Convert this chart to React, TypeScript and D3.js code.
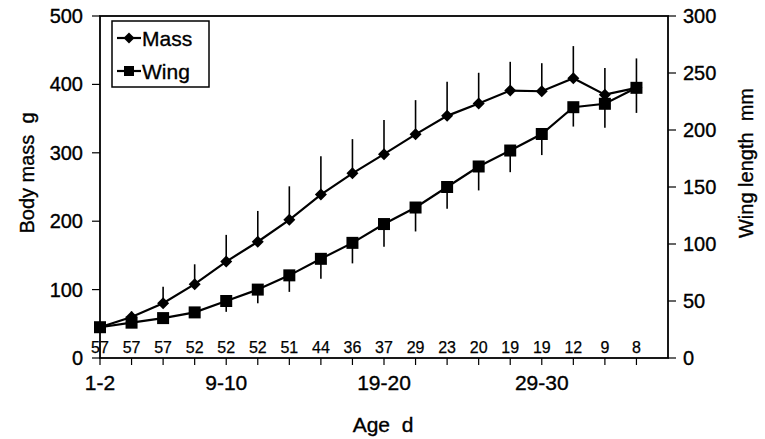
import React from "react";
import * as d3 from "d3";

const ageLabels = ["1-2","3-4","5-6","7-8","9-10","11-12","13-14","15-16","17-18","19-20","21-22","23-24","25-26","27-28","29-30","31-32","33-34","35-36"];
const shownAgeTicks = ["1-2","9-10","19-20","29-30"];
const massMean = [45,60,80,108,141,170,202,239,270,298,327,354,372,391,390,409,385,395];
const massSD = [3,8,24,29,39,45,49,56,50,50,50,50,45,42,41,47,39,43];
const wingMean = [27,31,35,40,50,60,72.5,87,101,117.5,132,150,168,182,196.5,220,223,237];
const wingSD = [0,4,3,4.5,9.5,12,14.5,17.5,18,20,21,19,21,19,18.5,17,21,22];
const sampleN = [57,57,57,52,52,52,51,44,36,37,29,23,20,19,19,12,9,8];
const massTicks = [0,100,200,300,400,500];
const wingTicks = [0,50,100,150,200,250,300];

const L = 100, R = 668, T = 16, B = 358;
const FONT = "'Liberation Sans', Arial, Helvetica, sans-serif";

export default function App() {
  const x = d3.scaleLinear().domain([0, 18]).range([L, R]);
  const yM = d3.scaleLinear().domain([0, 500]).range([B, T]);
  const yW = d3.scaleLinear().domain([0, 300]).range([B, T]);
  const idx = ageLabels.map((_, i) => i);
  const massLine = d3.line<number>().x((i) => x(i)).y((i) => yM(massMean[i]))(idx) || "";
  const wingLine = d3.line<number>().x((i) => x(i)).y((i) => yW(wingMean[i]))(idx) || "";
  const diamond = (cx: number, cy: number, r = 6) =>
    `M${cx},${cy - r}L${cx + r},${cy}L${cx},${cy + r}L${cx - r},${cy}Z`;
  const sq = 6;
  const txt = { stroke: "#000", strokeWidth: 0.35 } as const;

  return (
    <svg width={765} height={439} style={{ position: "absolute", left: 0, top: 0, background: "#fff" }} fontFamily={FONT}>
      <rect x={0} y={0} width={765} height={439} fill="#fff" />
      {/* frame */}
      <rect x={L} y={T} width={R - L} height={B - T} fill="none" stroke="#000" strokeWidth={1.8} />

      {/* left ticks */}
      {massTicks.map((t) => (
        <g key={"m" + t}>
          <line x1={L - 8} x2={L} y1={yM(t)} y2={yM(t)} stroke="#000" strokeWidth={1.2} />
          <text x={L - 17} y={yM(t) + 7} textAnchor="end" fontSize={20} {...txt}>{t}</text>
        </g>
      ))}
      {/* right ticks */}
      {wingTicks.map((t) => (
        <g key={"w" + t}>
          <line x1={R} x2={R + 8} y1={yW(t)} y2={yW(t)} stroke="#000" strokeWidth={1.2} />
          <text x={R + 15} y={yW(t) + 7} textAnchor="start" fontSize={20} {...txt}>{t}</text>
        </g>
      ))}
      {/* x ticks */}
      {ageLabels.map((a, i) => (
        <line key={"xt" + a} x1={x(i)} x2={x(i)} y1={B} y2={B + 7} stroke="#000" strokeWidth={1.2} />
      ))}
      {shownAgeTicks.map((a) => (
        <text key={"xl" + a} x={x(ageLabels.indexOf(a))} y={390} textAnchor="middle" fontSize={21} {...txt}>{a}</text>
      ))}

      {/* sample sizes */}
      {sampleN.map((n, i) => (
        <text key={"n" + i} x={x(i)} y={353} textAnchor="middle" fontSize={16} stroke="#000" strokeWidth={0.25}>{n}</text>
      ))}

      {/* error bars */}
      {massMean.map((m, i) => (
        <line key={"me" + i} x1={x(i)} x2={x(i)} y1={yM(m)} y2={yM(m + massSD[i])} stroke="#000" strokeWidth={1.6} />
      ))}
      {wingMean.map((w, i) => (
        <line key={"we" + i} x1={x(i)} x2={x(i)} y1={yW(w)} y2={yW(w - wingSD[i])} stroke="#000" strokeWidth={1.6} />
      ))}

      {/* lines */}
      <path d={massLine} fill="none" stroke="#000" strokeWidth={2.2} />
      <path d={wingLine} fill="none" stroke="#000" strokeWidth={2.2} />

      {/* markers */}
      {wingMean.map((w, i) => (
        <rect key={"ws" + i} x={x(i) - sq} y={yW(w) - sq} width={sq * 2} height={sq * 2} fill="#000" />
      ))}
      {massMean.map((m, i) => (
        <path key={"md" + i} d={diamond(x(i), yM(m))} fill="#000" />
      ))}

      {/* legend */}
      <rect x={112} y={21} width={97} height={66} fill="#fff" stroke="#000" strokeWidth={1.5} />
      <line x1={117} x2={141} y1={38} y2={38} stroke="#000" strokeWidth={2.2} />
      <path d={diamond(129, 38, 5.5)} fill="#000" />
      <text x={142} y={45.5} fontSize={21} {...txt}>Mass</text>
      <line x1={117} x2={141} y1={71} y2={71} stroke="#000" strokeWidth={2.2} />
      <rect x={124} y={66} width={10} height={10} fill="#000" />
      <text x={142} y={78.5} fontSize={21} {...txt}>Wing</text>

      {/* axis titles */}
      <text x={383} y={432} textAnchor="middle" fontSize={21} style={{ whiteSpace: "pre" }} {...txt}>{"Age  d"}</text>
      <text transform={`translate(34,173) rotate(-90)`} textAnchor="middle" fontSize={20} style={{ whiteSpace: "pre" }} {...txt}>{"Body mass  g"}</text>
      <text transform={`translate(753,163) rotate(-90)`} textAnchor="middle" fontSize={20} style={{ whiteSpace: "pre" }} {...txt}>{"Wing length  mm"}</text>
    </svg>
  );
}
